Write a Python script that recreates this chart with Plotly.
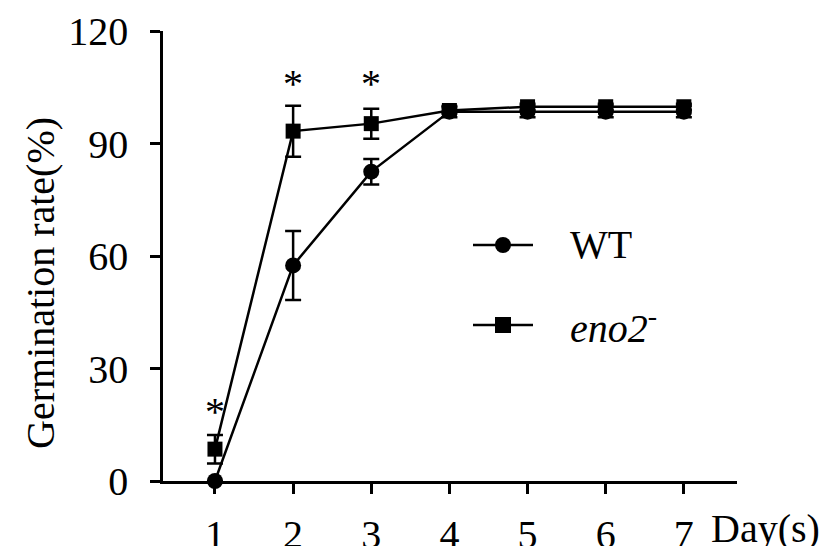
import plotly.graph_objects as go

days = [1, 2, 3, 4, 5, 6, 7]
wt_mean = [0, 57.5, 82.5, 98.5, 98.5, 98.5, 98.5]
wt_err = [0, 9.2, 3.4, 1.5, 1.5, 1.5, 1.5]
eno2_mean = [8.5, 93.3, 95.3, 98.8, 99.8, 99.8, 99.8]
eno2_err = [3.8, 6.8, 4.0, 0.8, 0.8, 0.8, 0.8]
sig_days = [1, 2, 3]
sig_y = [19.5, 107.0, 107.0]
y_ticks = [0, 30, 60, 90, 120]

FONT = "Liberation Serif"
FS = 40

fig = go.Figure()
fig.add_trace(go.Scatter(
    x=days, y=wt_mean, mode="lines+markers", name="WT",
    line=dict(color="black", width=2.5),
    marker=dict(symbol="circle", size=16, color="black"),
    error_y=dict(type="data", array=wt_err, color="black", thickness=2.5, width=8),
    cliponaxis=False, showlegend=False))
fig.add_trace(go.Scatter(
    x=days, y=eno2_mean, mode="lines+markers", name="eno2-",
    line=dict(color="black", width=2.5),
    marker=dict(symbol="square", size=15, color="black"),
    error_y=dict(type="data", array=eno2_err, color="black", thickness=2.5, width=8),
    cliponaxis=False, showlegend=False))

for d, yv in zip(sig_days, sig_y):
    fig.add_annotation(x=d, y=yv, text="*", showarrow=False, yshift=-4,
                       font=dict(family=FONT, size=FS, color="black"))

# manual legend (pixel based)
L, R, T, B = 163, 85, 31, 65
W, H = 822 - L - R, 546 - T - B
def px(x):
    return (x - L) / W
def py(y):
    return (546 - B - y) / H

legend_items = [("WT", "circle", 245), ("<i>eno2</i><sup>-</sup>", "square", 325)]
for label, sym, yy in legend_items:
    fig.add_shape(type="line", xref="paper", yref="paper",
                  x0=px(473), x1=px(533), y0=py(yy), y1=py(yy),
                  line=dict(color="black", width=2.5))
    fig.add_shape(type="circle" if sym == "circle" else "rect",
                  xref="paper", yref="paper",
                  xsizemode="pixel", ysizemode="pixel",
                  xanchor=px(503), yanchor=py(yy),
                  x0=-8, x1=8, y0=-8, y1=8,
                  fillcolor="black", line=dict(width=0))
    fig.add_annotation(xref="paper", yref="paper", x=px(568), y=py(yy),
                       xanchor="left", yanchor="middle", text=label, showarrow=False,
                       font=dict(family=FONT, size=FS, color="black"))

# axis titles
fig.add_annotation(xref="paper", yref="paper", x=px(709), y=py(528),
                   xanchor="left", yanchor="middle", text="Day(s)", showarrow=False,
                   font=dict(family=FONT, size=FS, color="black"))
fig.add_annotation(xref="paper", yref="paper", x=px(40), y=py(283),
                   xanchor="center", yanchor="middle", text="Germination rate(%)",
                   textangle=-90, showarrow=False,
                   font=dict(family=FONT, size=FS, color="black"))

fig.update_layout(
    width=822, height=546,
    margin=dict(l=L, r=R, t=T, b=B, pad=0, autoexpand=False),
    paper_bgcolor="white", plot_bgcolor="white",
    font=dict(family=FONT, size=FS, color="black"),
    showlegend=False,
)
fig.update_xaxes(range=[0.335, 7.68], tickvals=days, ticktext=[str(d) for d in days],
                 showline=True, linecolor="black", linewidth=2.5,
                 ticks="outside", ticklen=10, tickwidth=2.5, tickcolor="black",
                 showgrid=False, zeroline=False, ticklabelstandoff=6, automargin=False,
                 tickfont=dict(family=FONT, size=FS))
fig.update_yaxes(range=[0, 120], tickvals=y_ticks,
                 showline=True, linecolor="black", linewidth=2.5,
                 ticks="outside", ticklen=10, tickwidth=2.5, tickcolor="black",
                 showgrid=False, zeroline=False, ticklabelstandoff=14, automargin=False,
                 tickfont=dict(family=FONT, size=FS))

fig.write_html("out.html", config={"displayModeBar": False},
               post_script="document.body.style.margin='0';")
